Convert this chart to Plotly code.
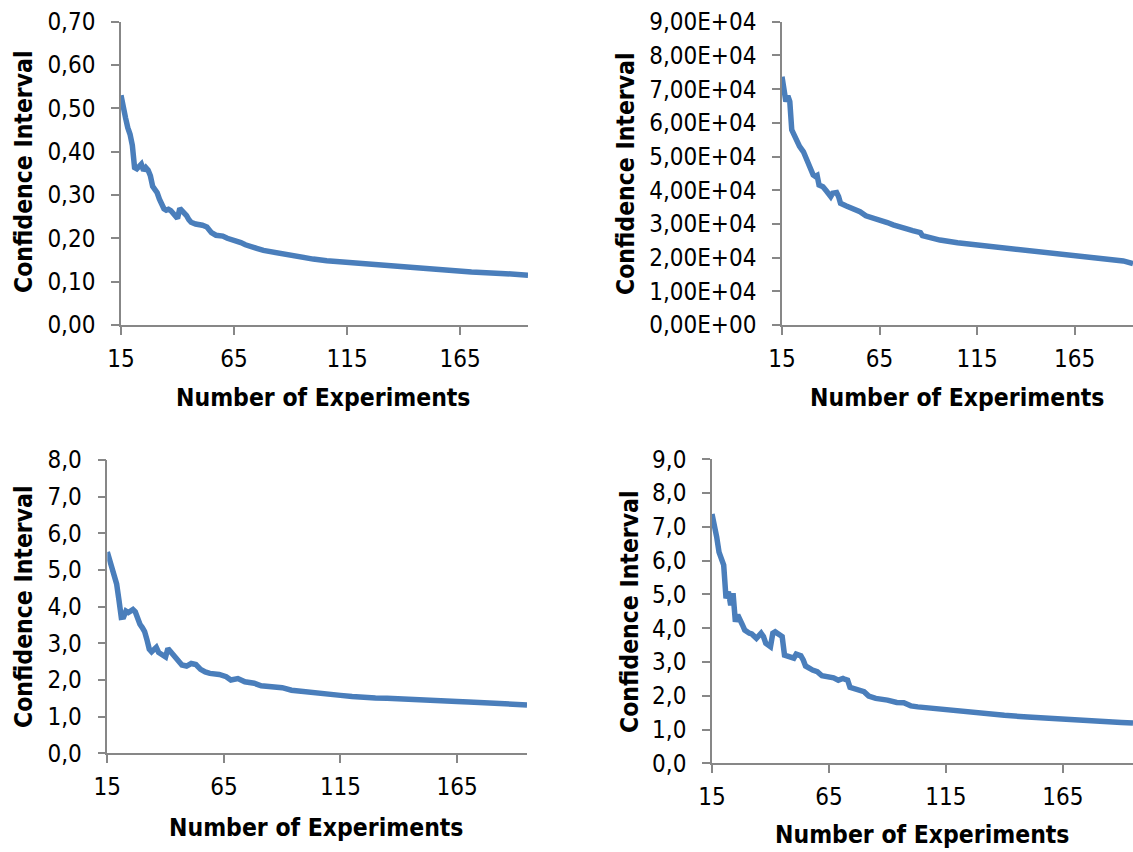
import plotly.graph_objects as go

# Number of experiments and confidence-interval width for each of the four studies
exp_a = [15, 16, 17, 18, 19, 20, 21, 22, 23, 24, 25, 26, 27, 28, 29, 30, 31, 32, 33, 34, 35, 36, 37, 38, 39,
         40, 41, 42, 43, 44, 45, 46, 48, 50, 51, 53, 55, 57, 60, 62, 65, 68, 70, 73, 75, 78, 81, 84, 88,
         93, 100, 106, 113, 120, 126, 135, 143, 151, 161, 170, 183, 195]
ci_a = [0.530, 0.495, 0.478, 0.455, 0.440, 0.415, 0.363, 0.360, 0.366, 0.371, 0.356, 0.363, 0.357, 0.344,
        0.320, 0.312, 0.305, 0.290, 0.278, 0.268, 0.265, 0.267, 0.264, 0.257, 0.251, 0.246, 0.269, 0.264,
        0.259, 0.252, 0.243, 0.237, 0.233, 0.232, 0.230, 0.226, 0.213, 0.207, 0.205, 0.200, 0.196, 0.190,
        0.185, 0.182, 0.177, 0.172, 0.169, 0.165, 0.162, 0.157, 0.152, 0.148, 0.145, 0.142, 0.139, 0.135,
        0.133, 0.129, 0.125, 0.122, 0.119, 0.115]

exp_b = [15, 16, 17, 18, 19, 20, 21, 22, 23, 24, 26, 28, 29, 31, 32, 33, 34, 36, 38, 40, 41, 43, 44, 45,
         48, 52, 55, 58, 62, 65, 69, 72, 76, 79, 82, 86, 87, 92, 96, 105, 115, 125, 135, 145, 155, 165,
         175, 185, 190, 195]
ci_b = [73700, 68800, 66300, 68000, 66300, 57900, 56400, 55200, 54200, 53000, 51400, 48800, 46500, 44500,
        44100, 44400, 41500, 41000, 39600, 38100, 39100, 39300, 38100, 36100, 35300, 34400, 33600, 32400,
        31800, 31200, 30400, 29700, 29200, 28500, 28000, 27400, 26500, 25700, 25200, 24400, 23800, 23100,
        22500, 21900, 21300, 20700, 20200, 19500, 19000, 18200]

exp_c = [15, 16, 17, 18, 19, 20, 21, 22, 23, 24, 25, 26, 27, 28, 29, 30, 31, 32, 33, 34, 35, 36, 37, 38, 39,
         40, 41, 42, 43, 45, 47, 49, 51, 53, 55, 57, 59, 63, 66, 68, 71, 74, 78, 81, 86, 90, 94, 98, 103,
         110, 115, 120, 125, 130, 135, 140, 150, 160, 165, 170, 180, 190, 195]
ci_c = [5.49, 5.27, 5.04, 4.72, 4.62, 4.18, 3.71, 3.72, 3.88, 3.84, 3.90, 3.92, 3.86, 3.65, 3.52, 3.43,
        3.32, 3.10, 2.84, 2.77, 2.83, 2.89, 2.75, 2.70, 2.66, 2.63, 2.86, 2.78, 2.67, 2.53, 2.41, 2.38,
        2.45, 2.42, 2.29, 2.22, 2.18, 2.15, 2.09, 2.00, 2.04, 1.95, 1.91, 1.84, 1.81, 1.79, 1.72, 1.70,
        1.64, 1.61, 1.58, 1.55, 1.52, 1.51, 1.50, 1.48, 1.45, 1.42, 1.41, 1.40, 1.37, 1.34, 1.32]

exp_d = [15, 16, 17, 18, 19, 20, 21, 22, 23, 24, 25, 26, 28, 29, 31, 32, 34, 36, 37, 38, 40, 41, 42, 44,
         45, 46, 48, 50, 51, 53, 54, 55, 58, 60, 62, 64, 67, 69, 71, 72, 73, 74, 77, 80, 82, 85, 90, 94,
         97, 100, 103, 110, 115, 120, 125, 130, 135, 140, 150, 160, 165, 170, 180, 190, 195]
ci_d = [7.38, 7.10, 6.70, 6.25, 6.05, 5.87, 4.88, 5.08, 4.68, 5.03, 4.19, 4.39, 4.10, 3.94, 3.85, 3.83,
        3.70, 3.85, 3.75, 3.55, 3.45, 3.85, 3.89, 3.80, 3.75, 3.20, 3.15, 3.11, 3.23, 3.18, 3.06, 2.88,
        2.76, 2.71, 2.59, 2.58, 2.53, 2.46, 2.51, 2.48, 2.46, 2.25, 2.20, 2.12, 1.99, 1.92, 1.87, 1.80,
        1.79, 1.70, 1.67, 1.62, 1.58, 1.54, 1.50, 1.47, 1.45, 1.42, 1.37, 1.32, 1.30, 1.28, 1.25, 1.21,
        1.19]

x_ticks = [15, 65, 115, 165]
b_ticks = [0, 10000, 20000, 30000, 40000, 50000, 60000, 70000, 80000, 90000]
b_tick_text = ["0,00E+00", "1,00E+04", "2,00E+04", "3,00E+04", "4,00E+04",
               "5,00E+04", "6,00E+04", "7,00E+04", "8,00E+04", "9,00E+04"]

W, H = 1133, 852
LINE_BLUE = "#4a7ebb"
AXIS_GREY = "#878787"
FONT = "DejaVu Sans Condensed, DejaVu Sans"


def px(x):
    return x / W


def py(y):
    return 1 - y / H


fig = go.Figure()

panels = [
    (exp_a, ci_a, "x", "y"),
    (exp_b, ci_b, "x2", "y2"),
    (exp_c, ci_c, "x3", "y3"),
    (exp_d, ci_d, "x4", "y4"),
]
for xs, ys, xa, ya in panels:
    fig.add_trace(go.Scatter(x=xs, y=ys, xaxis=xa, yaxis=ya, mode="lines",
                             line=dict(color=LINE_BLUE, width=5.5), showlegend=False,
                             cliponaxis=False))

# plot-area boxes in pixels: (left, right, top, bottom)
boxes = [
    (121, 528, 21.5, 325),
    (782, 1133, 21.7, 325),
    (107.3, 527, 460, 753.3),
    (712, 1133, 459.2, 763.3),
]

tick_font = dict(family=FONT, size=24, color="black")
common_x = dict(range=[15, 195], tickvals=x_ticks, ticks="outside", ticklen=8, tickwidth=1.5,
                tickcolor=AXIS_GREY, showline=True, linecolor=AXIS_GREY, linewidth=1.5,
                showgrid=False, zeroline=False, ticklabelstandoff=3, automargin=False,
                tickfont=tick_font)
common_y = dict(ticks="outside", ticklen=8, tickwidth=1.5, tickcolor=AXIS_GREY, showline=True,
                linecolor=AXIS_GREY, linewidth=1.5, showgrid=False, zeroline=False,
                ticklabelstandoff=11, automargin=False, tickfont=tick_font)

y_specs = [
    dict(range=[0, 0.7], tickvals=[i / 10 for i in range(8)], tickformat=".2f"),
    dict(range=[0, 90000], tickvals=b_ticks, ticktext=b_tick_text),
    dict(range=[0, 8], tickvals=list(range(9)), tickformat=".1f"),
    dict(range=[0, 9], tickvals=list(range(10)), tickformat=".1f"),
]

layout_axes = {}
for i, ((l, r, t, b), ys) in enumerate(zip(boxes, y_specs), start=1):
    sx = "" if i == 1 else str(i)
    layout_axes["xaxis" + sx] = dict(common_x, domain=[px(l), px(r)], anchor="y" + sx)
    layout_axes["yaxis" + sx] = dict(common_y, **ys, domain=[py(b), py(t)], anchor="x" + sx)

title_font = dict(family=FONT, size=24.5, color="black")
annotations = []
# y-axis titles (centre positions in pixels)
for cx, cy in [(23, 172), (626, 174), (23, 607), (629, 612)]:
    annotations.append(dict(text="<b>Confidence Interval</b>", x=px(cx), y=py(cy), xref="paper",
                            yref="paper", xanchor="center", yanchor="middle", textangle=-90,
                            showarrow=False, font=title_font))
# x-axis titles
for cx, cy in [(323.7, 397), (957.5, 397.5), (316.7, 827), (922, 834)]:
    annotations.append(dict(text="<b>Number of Experiments</b>", x=px(cx), y=py(cy), xref="paper",
                            yref="paper", xanchor="center", yanchor="middle",
                            showarrow=False, font=title_font))

fig.update_layout(width=W, height=H, margin=dict(l=0, r=0, t=0, b=0),
                  paper_bgcolor="white", plot_bgcolor="white", separators=", ",
                  annotations=annotations, **layout_axes)

fig.write_html("out.html")
